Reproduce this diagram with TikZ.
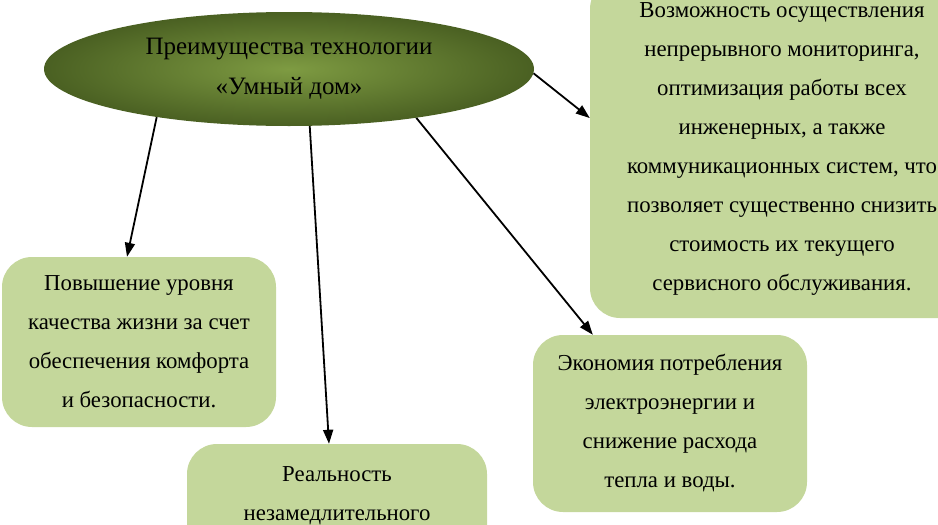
\documentclass[tikz,border=0pt]{standalone}
\usepackage{fontspec}
\setmainfont{Liberation Serif}
\usetikzlibrary{arrows.meta,calc,shapes.geometric}
\definecolor{boxgreen}{RGB}{196,215,155}
\definecolor{ellin}{RGB}{126,155,66}
\definecolor{ellout}{RGB}{74,96,34}
\begin{document}
\begin{tikzpicture}[x=1pt,y=-1pt,
  box/.style={fill=boxgreen, rounded corners=30pt, align=center, font=\fontsize{22.8}{39}\selectfont, inner sep=0pt},
  txt/.style={align=center, font=\fontsize{22.8}{39}\selectfont, inner sep=0pt},
  arr/.style={line width=1.8pt, -{Triangle[length=14pt,width=10pt]}}]
\useasboundingbox (0,0) rectangle (938,525);
\node[ellipse, minimum width=490pt, minimum height=114pt, inner sep=0pt, inner color=ellin, outer color=ellout, align=center, font=\fontsize{25}{40}\selectfont] (e) at (289,69) {Преимущества технологии\\«Умный дом»};
\node[box, minimum width=274pt, minimum height=170pt] (b1) at (139,342) {Повышение уровня\\качества жизни за счет\\обеспечения комфорта\\и безопасности.};
\node[box, minimum width=300pt, minimum height=170pt] (b2) at (337,529) {};
\node[txt] (b2t) at (337,496) {Реальность\\незамедлительного};
\node[box, minimum width=384pt, minimum height=339pt] (b3) at (782,148.5) {Возможность осуществления\\непрерывного мониторинга,\\оптимизация работы всех\\инженерных, а также\\коммуникационных систем, что\\позволяет существенно снизить\\стоимость их текущего\\сервисного обслуживания.};
\node[box, minimum width=274pt, minimum height=177pt] (b4) at (670,423.5) {Экономия потребления\\электроэнергии и\\снижение расхода\\тепла и воды.};
\draw[arr] (e.200) -- (b1.98);
\draw[arr] (e.290) -- ($(b2.north)+(-8,0)$);
\draw[arr] (e.339) -- (b4.131.6);
\draw[arr] (e.-1) -- (b3.171);
\end{tikzpicture}
\end{document}
